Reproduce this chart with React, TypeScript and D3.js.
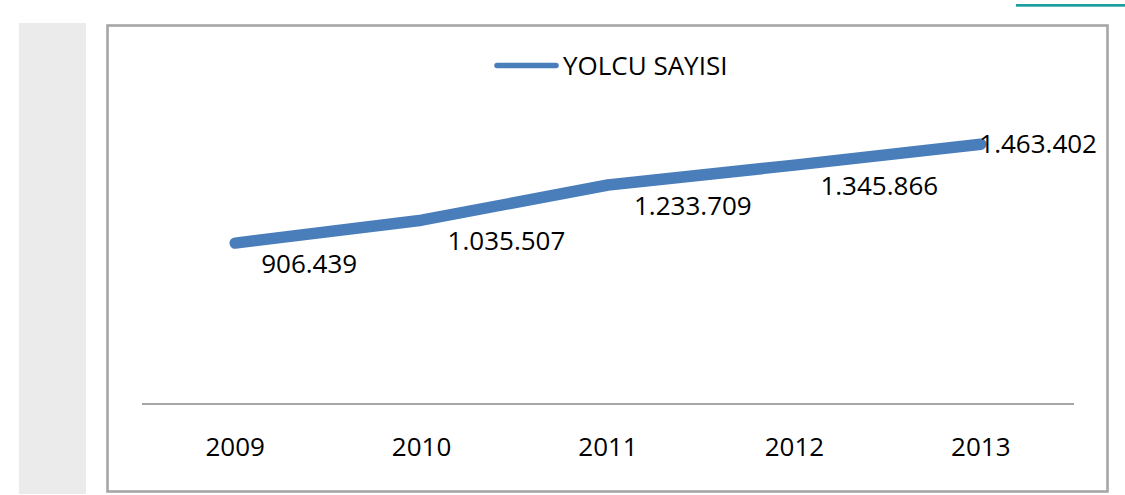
import React, { useEffect, useRef } from "react";
import * as d3 from "d3";

const years = ["2009", "2010", "2011", "2012", "2013"];
const passengers = [906439, 1035507, 1233709, 1345866, 1463402];
const seriesName = "YOLCU SAYISI";
const yDomain = [0, 2000000];

const fmt = (v: number) => d3.format(",")(v).replace(/,/g, ".");

export default function App() {
  const ref = useRef<SVGSVGElement | null>(null);

  useEffect(() => {
    const svg = d3.select(ref.current);
    svg.selectAll("*").remove();
    const W = 1125, H = 495;
    const font = "'Open Sans', 'DejaVu Sans', sans-serif";
    const blue = "#4a7ebb";
    const grid = "#a6a6a6";

    // left gray band
    svg.append("rect").attr("x", 19).attr("y", 23).attr("width", 67).attr("height", 471).attr("fill", "#ebebeb");
    // teal line top right
    svg.append("rect").attr("x", 1016).attr("y", 4).attr("width", 109).attr("height", 2.7).attr("fill", "#1a9e9f");

    // chart border
    svg.append("rect").attr("x", 107.5).attr("y", 25.5).attr("width", 1000).attr("height", 466)
      .attr("fill", "#fff").attr("stroke", grid).attr("stroke-width", 2.6);

    const x = d3.scaleBand<string>().domain(years).range([142, 1074]);
    const y = d3.scaleLinear().domain(yDomain).range([404, 49]);
    const cx = (d: string) => (x(d) as number) + x.bandwidth() / 2;

    // category axis line
    svg.append("line").attr("x1", 142).attr("x2", 1074).attr("y1", 404).attr("y2", 404)
      .attr("stroke", grid).attr("stroke-width", 2);

    // tick labels
    svg.append("g").selectAll("text").data(years).join("text")
      .attr("x", (d) => cx(d)).attr("y", 456).attr("text-anchor", "middle")
      .attr("font-family", font).attr("font-size", 26).attr("fill", "#000")
      .text((d) => d);

    // line
    const pts = years.map((yr, i) => [cx(yr), y(passengers[i])] as [number, number]);
    svg.append("path").attr("d", d3.line()(pts) as string)
      .attr("fill", "none").attr("stroke", blue).attr("stroke-width", 11.5)
      .attr("stroke-linecap", "round").attr("stroke-linejoin", "round");

    // data labels
    const rightLimit = 1097;
    const lg = svg.append("g");
    pts.forEach((p, i) => {
      const t = lg.append("text").attr("font-family", font).attr("font-size", 26).attr("fill", "#000")
        .text(fmt(passengers[i]));
      const w = (t.node() as SVGTextElement).getComputedTextLength();
      let lx = p[0] + 26;
      let ly = p[1] + 30;
      if (lx + w > rightLimit) {
        lx = rightLimit - w;
        ly = p[1] + 9;
      }
      t.attr("x", lx).attr("y", ly);
    });

    // legend
    svg.append("line").attr("x1", 497).attr("x2", 556).attr("y1", 65.5).attr("y2", 65.5)
      .attr("stroke", blue).attr("stroke-width", 5.5).attr("stroke-linecap", "round");
    svg.append("text").attr("x", 563).attr("y", 75).attr("font-family", font).attr("font-size", 26)
      .attr("fill", "#000").text(seriesName);
  }, []);

  return (
    <svg ref={ref} width={1125} height={495}
      style={{ position: "absolute", left: 0, top: 0, background: "#fff" }} />
  );
}
